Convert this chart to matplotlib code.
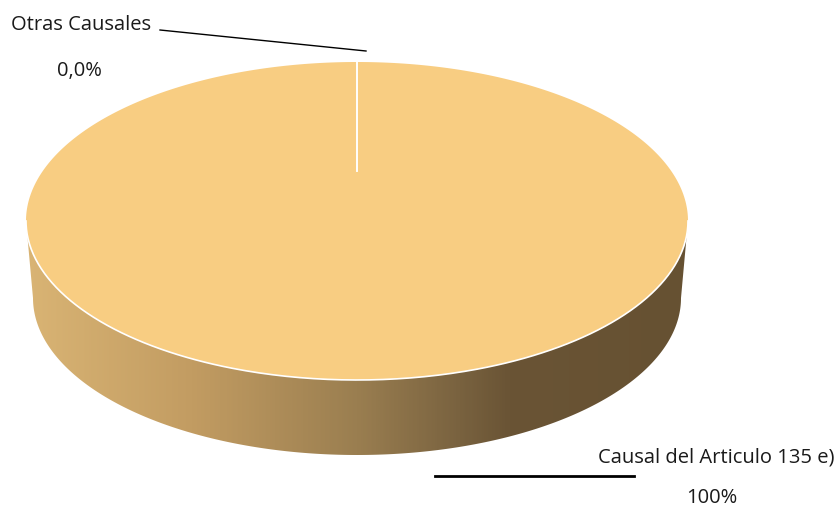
import matplotlib.pyplot as plt
import numpy as np
from matplotlib.patches import Polygon
from matplotlib.colors import LinearSegmentedColormap

# slice data
causas = ["Causal del Articulo 135 e)", "Otras Causales"]
valores = [100.0, 0.0]
etiquetas_pct = ["100%", "0,0%"]

W, H = 838, 509
fig = plt.figure(figsize=(W / 100, H / 100), dpi=100)
ax = fig.add_axes([0, 0, 1, 1])
ax.set_xlim(0, W)
ax.set_ylim(H, 0)
ax.axis("off")

# ellipse geometry (pixel space, y grows downward)
cx, cy, a, b = 357, 221, 331, 159
cx2, cy2, a2, b2 = 357, 298, 324, 157

top_color = "#F8CD82"

# side band: lower half of top ellipse + lower half of bottom ellipse
t = np.linspace(0, np.pi, 300)
upper = np.column_stack([cx + a * np.cos(t), cy + b * np.sin(t)])
lower = np.column_stack([cx2 + a2 * np.cos(t[::-1]), cy2 + b2 * np.sin(t[::-1])])
side = Polygon(np.vstack([upper, lower]), closed=True, facecolor="none",
               edgecolor="none")
ax.add_patch(side)
cmap = LinearSegmentedColormap.from_list(
    "side", [(0.0, "#D9B474"), (0.25, "#C29C62"), (0.5, "#9A7E50"),
             (0.65, "#7A6340"), (0.73, "#6A5435"), (1.0, "#665132")])
grad = np.linspace(0, 1, 400).reshape(1, -1)
img = ax.imshow(grad, cmap=cmap, extent=[cx - a, cx + a, cy2 + b2, cy],
                aspect="auto", zorder=1)
img.set_clip_path(side)

# top face wedges, clockwise from 12 o'clock
frac = np.array(valores) / sum(valores)
bounds = 90 - 360 * np.concatenate([[0], np.cumsum(frac)])
for i in range(len(valores)):
    th = np.radians(np.linspace(bounds[i], bounds[i + 1], 400))
    pts = np.column_stack([cx + a * np.cos(th), cy - b * np.sin(th)])
    pts = np.vstack([[cx, cy], pts])
    ax.add_patch(Polygon(pts, closed=True, facecolor=top_color,
                         edgecolor="none", zorder=2))

# slice separators and rim highlight
for ang in np.radians(bounds[:-1]):
    ax.plot([cx, cx + a * np.cos(ang)], [cy - 50, cy - b * np.sin(ang)],
            color="white", lw=1.2, zorder=3)
tt = np.linspace(0, np.pi, 300)
ax.plot(cx + a * np.cos(tt), cy + b * np.sin(tt), color="white", lw=1.2, zorder=3)

font = dict(family="Open Sans", fontsize=14.5, color="#1a1a1a")

# labels
ax.plot([160, 366], [30, 51], color="black", lw=1.0, zorder=4)
ax.text(11, 25, causas[1], ha="left", va="center", **font)
ax.text(79, 71, etiquetas_pct[1], ha="center", va="center", **font)

ax.plot([435, 634], [476, 476], color="black", lw=2.0, zorder=4)
ax.text(834, 457, causas[0], ha="right", va="center", **font)
ax.text(712, 498, etiquetas_pct[0], ha="center", va="center", **font)

fig.savefig("out.png", dpi=100, facecolor="white")
